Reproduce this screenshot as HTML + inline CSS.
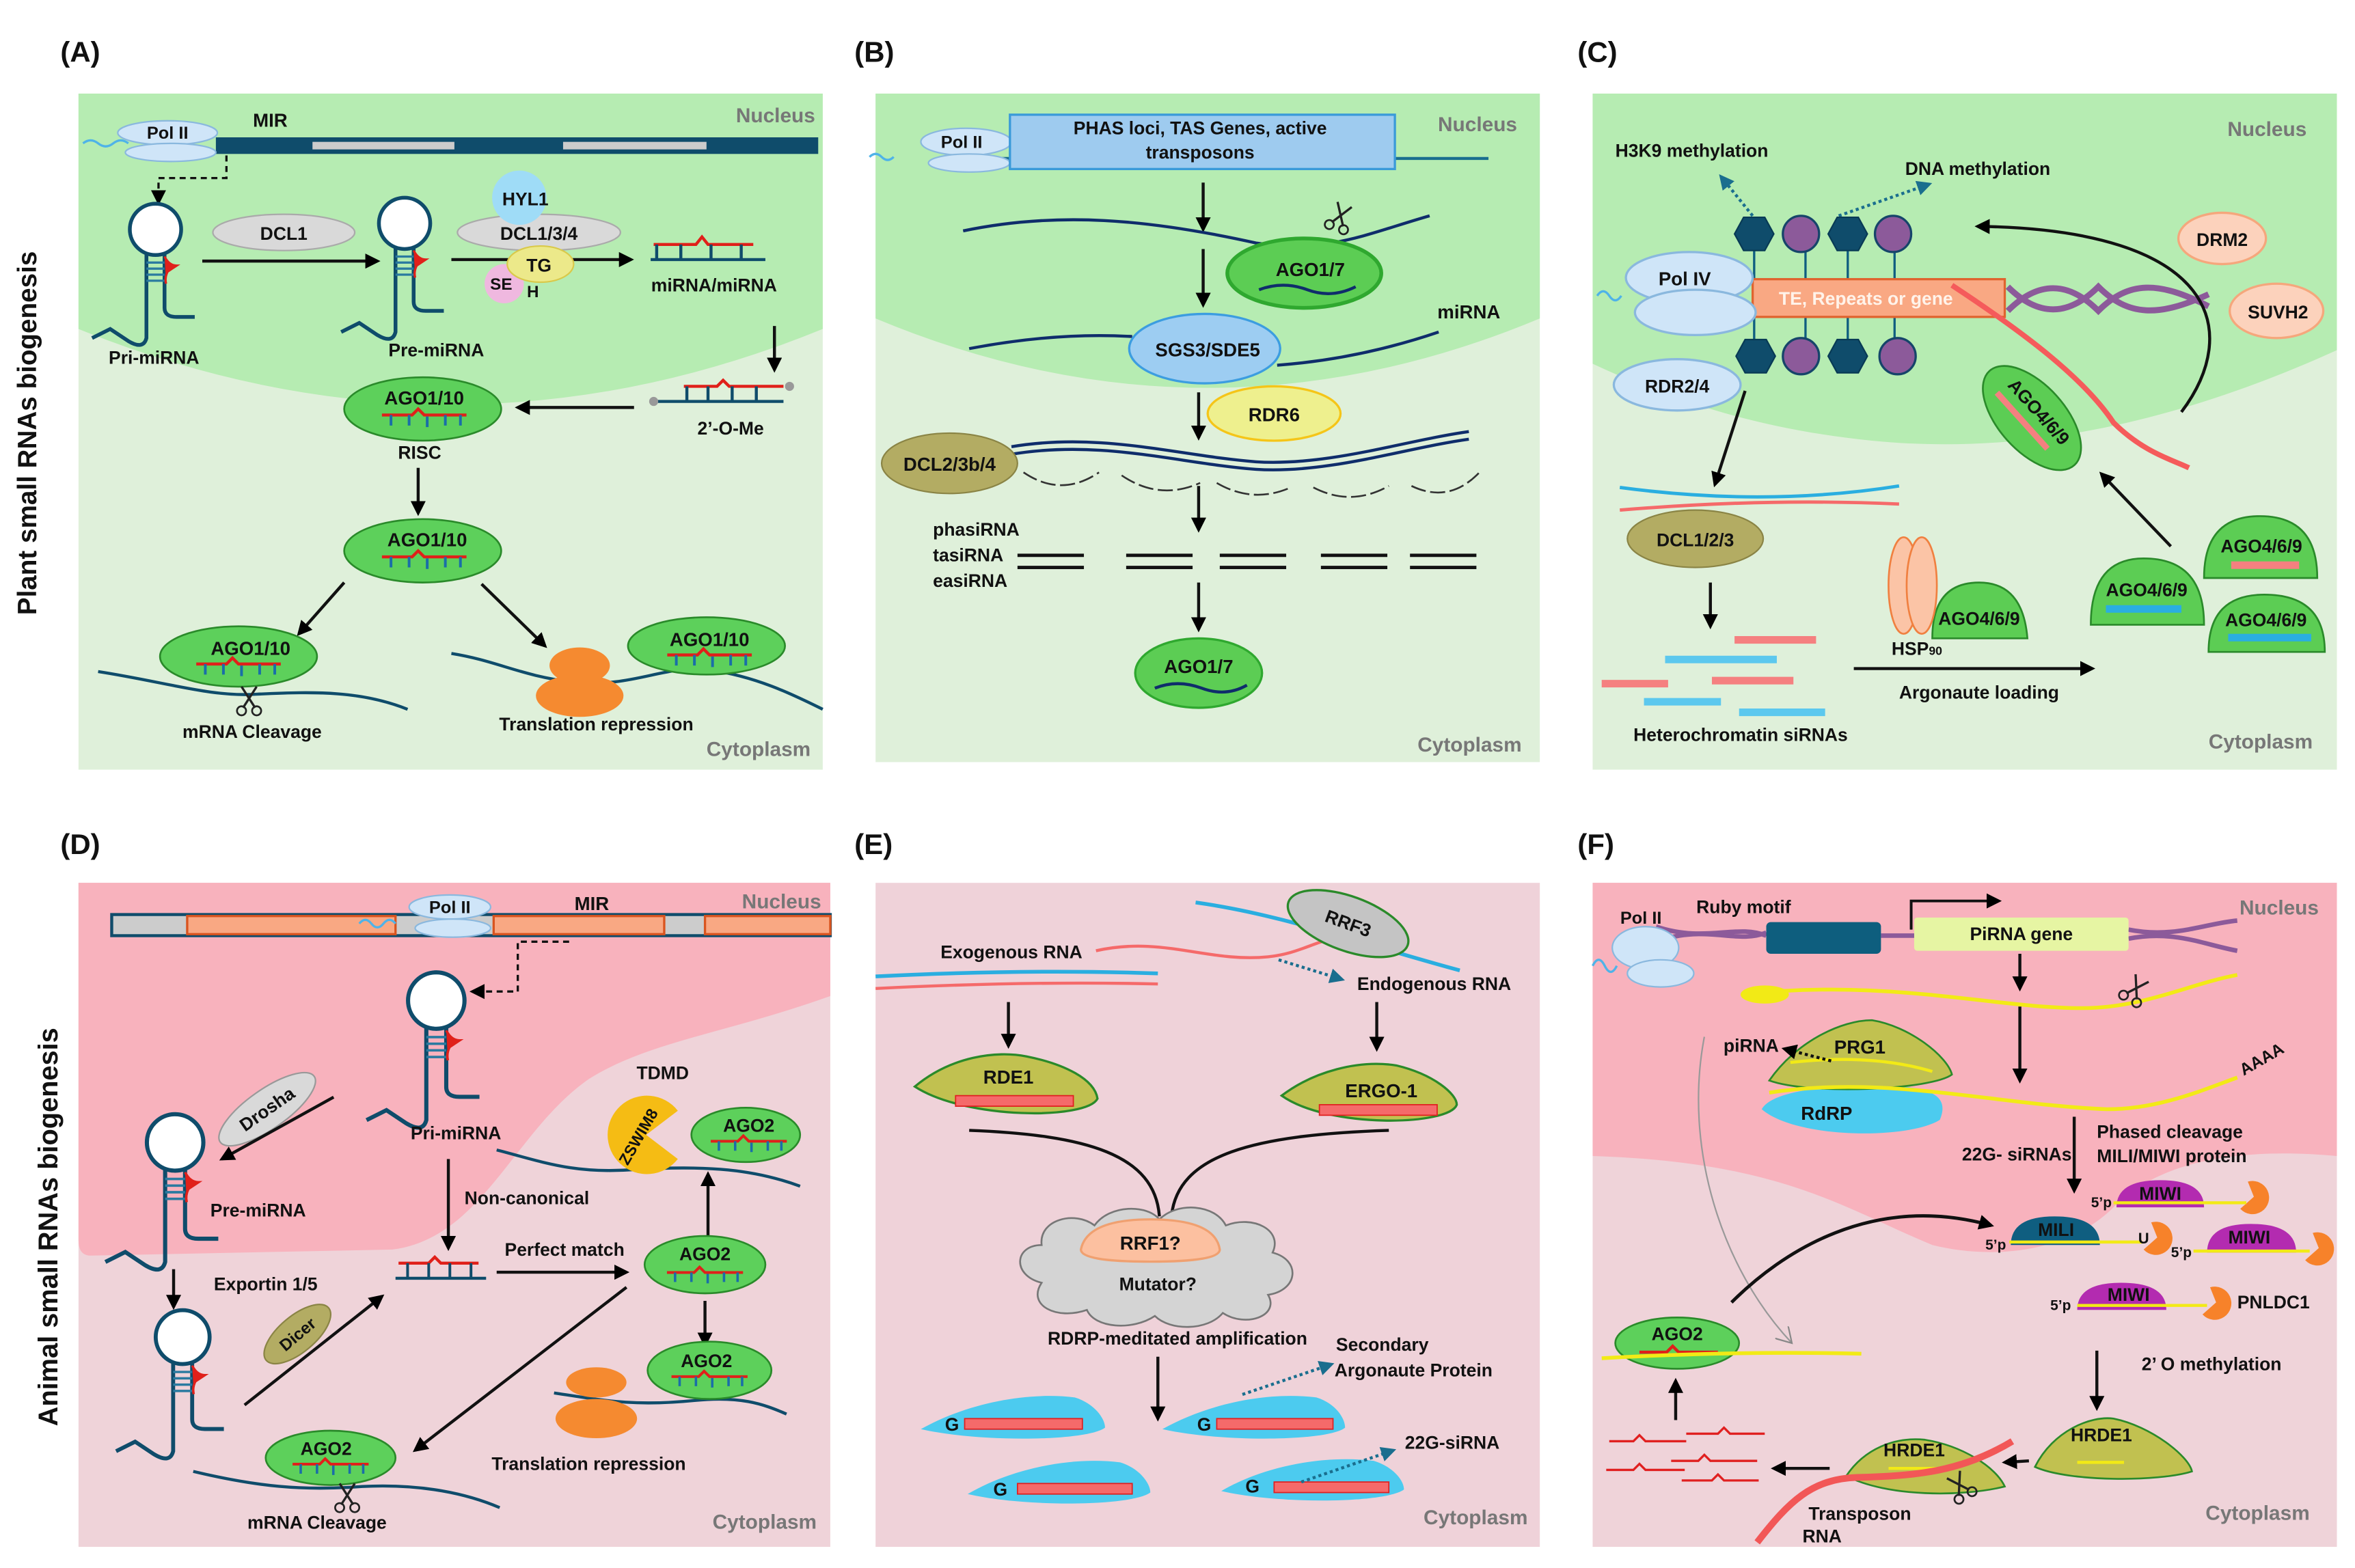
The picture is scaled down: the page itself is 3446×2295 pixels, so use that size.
<!DOCTYPE html>
<html><head><meta charset="utf-8"><style>
html,body{margin:0;padding:0;background:#fff;}
svg{display:block;}
text{font-family:"Liberation Sans",sans-serif;font-weight:bold;fill:#111;}
</style></head><body>
<svg width="3446" height="2295" viewBox="0 0 1560 1039" preserveAspectRatio="none" xmlns="http://www.w3.org/2000/svg">
<defs>
<marker id="ar" markerWidth="10" markerHeight="10" refX="8" refY="5" orient="auto" markerUnits="userSpaceOnUse"><path d="M0,0 L10,5 L0,10 Z" fill="#000"/></marker>
<marker id="ab" markerWidth="10" markerHeight="10" refX="8" refY="5" orient="auto" markerUnits="userSpaceOnUse"><path d="M0,0 L10,5 L0,10 Z" fill="#1a6e8e"/></marker>
<marker id="ag" markerWidth="12" markerHeight="12" refX="10" refY="6" orient="auto" markerUnits="userSpaceOnUse"><path d="M0,0 L10,6 L0,12" fill="none" stroke="#888" stroke-width="1"/></marker>
<g id="dup"><path d="M-28,-2 H-8 L-4,-6 L0,-2 H28" stroke="#e0201a" stroke-width="2" fill="none"/><path d="M-22,-2v7M-10,-2v7M2,-1v7M14,-2v7M24,-2v7" stroke="#1a6ea8" stroke-width="1.8"/></g>
<g id="hp"><circle cx="0" cy="0" r="17" fill="#fff" stroke="#0f4c6b" stroke-width="2.5"/><path d="M-6,16 V72 Q-8,80 -18,74 L-30,66 L-42,72" fill="none" stroke="#0f4c6b" stroke-width="2.5"/><path d="M6,16 V52 Q6,58 14,58 H26" fill="none" stroke="#0f4c6b" stroke-width="2.5"/><path d="M-6,22H6M-6,26H6M-6,30H6M-6,34H6" stroke="#2a7aa0" stroke-width="1.5"/><path d="M6,18 Q9,24 14,24 L8,28 Q6,32 7,36" fill="#e0201a" stroke="#e0201a" stroke-width="1.5"/></g>
<g id="scis"><path d="M-5,-8 L4,6 M5,-8 L-4,6" stroke="#222" stroke-width="1.5"/><circle cx="-5" cy="8" r="3" fill="none" stroke="#222" stroke-width="1.2"/><circle cx="5" cy="8" r="3" fill="none" stroke="#222" stroke-width="1.2"/></g>
</defs>
<rect width="1560" height="1039" fill="#fff"/>

<!-- Side labels -->
<text transform="translate(24,287) rotate(-90)" font-size="17.5" text-anchor="middle">Plant small RNAs biogenesis</text>
<text transform="translate(38,813) rotate(-90)" font-size="18" text-anchor="middle">Animal small RNAs biogenesis</text>

<text x="40" y="41" font-size="19">(A)</text>
<text x="566" y="41" font-size="19">(B)</text>
<text x="1045" y="41" font-size="19">(C)</text>
<text x="40" y="566" font-size="19">(D)</text>
<text x="566" y="566" font-size="19">(E)</text>
<text x="1045" y="566" font-size="19">(F)</text>

<!-- ================= PANEL A ================= -->
<rect x="52" y="62" width="493" height="448" fill="#dff0da"/>
<path d="M52,62 H545 V218 Q300,318 52,218 Z" fill="#b6ecb2"/>
<text x="540" y="81" font-size="13.5" fill="#777" text-anchor="end" style="fill:#777">Nucleus</text>
<text x="537" y="501" font-size="13.5" text-anchor="end" style="fill:#777">Cytoplasm</text>
<rect x="143" y="91" width="399" height="11" fill="#0f4c6b"/>
<rect x="207" y="94" width="94" height="5" fill="#ccc"/>
<rect x="373" y="94" width="95" height="5" fill="#ccc"/>
<path d="M55,95 q5,-4 10,0 t10,0 t10,0" stroke="#4fb3e8" stroke-width="1.5" fill="none"/>
<ellipse cx="111" cy="88" rx="33" ry="8" fill="#cfe5f8" stroke="#8ab8de"/>
<ellipse cx="113" cy="101" rx="30" ry="6" fill="#cfe5f8" stroke="#8ab8de"/>
<text x="111" y="92" font-size="11.5" text-anchor="middle">Pol II</text>
<text x="179" y="84" font-size="12.5" text-anchor="middle">MIR</text>
<path d="M150,103 V118 H105 V134" stroke="#111" stroke-width="1.5" stroke-dasharray="4,3" fill="none" marker-end="url(#ar)"/>
<use href="#hp" x="103" y="152"/>
<text x="102" y="241" font-size="12" text-anchor="middle">Pri-miRNA</text>
<ellipse cx="188" cy="154" rx="47" ry="12" fill="#d9d9d9" stroke="#aaa"/>
<text x="188" y="159" font-size="12" text-anchor="middle">DCL1</text>
<line x1="134" y1="173" x2="250" y2="173" stroke="#111" stroke-width="2" marker-end="url(#ar)"/>
<use href="#hp" x="268" y="148"/>
<text x="289" y="236" font-size="12" text-anchor="middle">Pre-miRNA</text>
<line x1="299" y1="172" x2="418" y2="172" stroke="#111" stroke-width="2" marker-end="url(#ar)"/>
<ellipse cx="357" cy="154" rx="54" ry="12" fill="#d9d9d9" stroke="#aaa"/>
<circle cx="344" cy="131" r="18" fill="#9fdcf7"/>
<text x="348" y="136" font-size="12" text-anchor="middle">HYL1</text>
<text x="357" y="159" font-size="12" text-anchor="middle">DCL1/3/4</text>
<circle cx="334" cy="188" r="13" fill="#efb8df"/>
<ellipse cx="358" cy="175" rx="22" ry="12" fill="#ece98a" stroke="#d9c94a"/>
<text x="357" y="180" font-size="12" text-anchor="middle">TG</text>
<text x="332" y="192" font-size="11" text-anchor="middle">SE</text>
<text x="353" y="197" font-size="11" text-anchor="middle">H</text>
<g transform="translate(469,172)"><path d="M-38,0 H38" stroke="#0f4c6b" stroke-width="2"/><path d="M-36,-10 H-8 L-4,-15 L0,-10 H30" stroke="#e0201a" stroke-width="2" fill="none"/><path d="M-34,-10V0M-18,-10V0M2,-10V0M22,-10V0" stroke="#0f4c6b" stroke-width="2"/></g>
<text x="473" y="193" font-size="12" text-anchor="middle">miRNA/miRNA</text>
<line x1="513" y1="216" x2="513" y2="245" stroke="#111" stroke-width="2" marker-end="url(#ar)"/>
<g transform="translate(479,266)"><path d="M-44,0 H40" stroke="#0f4c6b" stroke-width="2"/><path d="M-26,-10 H-4 L0,-14 L4,-10 H40" stroke="#e0201a" stroke-width="2" fill="none"/><path d="M-24,-10V0M-10,-10V0M6,-10V0M22,-10V0" stroke="#0f4c6b" stroke-width="2"/><circle cx="-46" cy="0" r="3" fill="#999"/><circle cx="44" cy="-10" r="3" fill="#999"/></g>
<text x="484" y="288" font-size="12" text-anchor="middle">2’-O-Me</text>
<line x1="420" y1="270" x2="343" y2="270" stroke="#111" stroke-width="2" marker-end="url(#ar)"/>
<ellipse cx="280" cy="271" rx="52" ry="21" fill="#5dd05b" stroke="#2a8a2a" stroke-width="1.2"/>
<text x="281" y="268" font-size="12.5" text-anchor="middle">AGO1/10</text>
<use href="#dup" x="281" y="277"/>
<text x="278" y="304" font-size="12" text-anchor="middle">RISC</text>
<line x1="277" y1="310" x2="277" y2="340" stroke="#111" stroke-width="2" marker-end="url(#ar)"/>
<ellipse cx="280" cy="365" rx="52" ry="21" fill="#5dd05b" stroke="#2a8a2a" stroke-width="1.2"/>
<text x="283" y="362" font-size="12.5" text-anchor="middle">AGO1/10</text>
<use href="#dup" x="281" y="371"/>
<line x1="228" y1="386" x2="198" y2="420" stroke="#111" stroke-width="2" marker-end="url(#ar)"/>
<line x1="319" y1="387" x2="361" y2="428" stroke="#111" stroke-width="2" marker-end="url(#ar)"/>
<path d="M65,445 C110,452 140,462 170,460 C210,458 240,458 270,470" stroke="#0f4c6b" stroke-width="2" fill="none"/>
<ellipse cx="158" cy="435" rx="52" ry="20" fill="#5dd05b" stroke="#2a8a2a" stroke-width="1.2"/>
<text x="166" y="434" font-size="12.5" text-anchor="middle">AGO1/10</text>
<use href="#dup" x="158" y="442"/>
<use href="#scis" x="165" y="463"/>
<text x="167" y="489" font-size="12" text-anchor="middle">mRNA Cleavage</text>
<path d="M299,433 C330,438 345,448 380,452 C420,456 440,440 470,444 C500,448 525,460 545,470" stroke="#0f4c6b" stroke-width="2" fill="none"/>
<ellipse cx="468" cy="428" rx="52" ry="19" fill="#5dd05b" stroke="#2a8a2a" stroke-width="1.2"/>
<text x="470" y="428" font-size="12.5" text-anchor="middle">AGO1/10</text>
<use href="#dup" x="470" y="436"/>
<ellipse cx="384" cy="441" rx="20" ry="12" fill="#f58a30"/>
<ellipse cx="384" cy="461" rx="29" ry="14" fill="#f58a30"/>
<text x="395" y="484" font-size="12" text-anchor="middle">Translation repression</text>

<!-- ================= PANEL B ================= -->
<rect x="580" y="62" width="440" height="443" fill="#dff0da"/>
<path d="M580,62 H1020 V211 Q800,303 580,211 Z" fill="#b6ecb2"/>
<text x="1005" y="87" font-size="13.5" text-anchor="end" style="fill:#777">Nucleus</text>
<text x="1008" y="498" font-size="13.5" text-anchor="end" style="fill:#777">Cytoplasm</text>
<line x1="640" y1="105" x2="669" y2="105" stroke="#1a6e8e" stroke-width="2"/>
<line x1="924" y1="105" x2="986" y2="105" stroke="#1a6e8e" stroke-width="2"/>
<path d="M576,104 q4,-4 8,0 t8,0" stroke="#4fb3e8" stroke-width="1.5" fill="none"/>
<ellipse cx="640" cy="94" rx="30" ry="9" fill="#cfe5f8" stroke="#8ab8de"/>
<ellipse cx="642" cy="108" rx="27" ry="6" fill="#cfe5f8" stroke="#8ab8de"/>
<text x="637" y="98" font-size="11.5" text-anchor="middle">Pol II</text>
<rect x="669" y="76" width="255" height="36" fill="#9ecbef" stroke="#3a9ad9" stroke-width="1.5"/>
<text x="795" y="89" font-size="12" text-anchor="middle">PHAS loci, TAS Genes, active</text>
<text x="795" y="105" font-size="12" text-anchor="middle">transposons</text>
<line x1="797" y1="121" x2="797" y2="152" stroke="#111" stroke-width="2" marker-end="url(#ar)"/>
<path d="M638,153 C700,140 760,145 832,161 C880,168 905,155 947,143" stroke="#0f2d6b" stroke-width="2" fill="none"/>
<use href="#scis" transform="translate(888,143) rotate(20)"/>
<ellipse cx="864" cy="181" rx="51" ry="23" fill="#5ccd54" stroke="#2fa82f" stroke-width="2.5"/>
<text x="868" y="183" font-size="12.5" text-anchor="middle">AGO1/7</text>
<path d="M834,192 Q850,186 866,192 T898,190" stroke="#0f2d6b" stroke-width="2" fill="none"/>
<line x1="797" y1="165" x2="797" y2="202" stroke="#111" stroke-width="2" marker-end="url(#ar)"/>
<path d="M642,231 Q700,220 750,223" stroke="#0f2d6b" stroke-width="2" fill="none"/>
<path d="M846,242 Q900,238 953,220" stroke="#0f2d6b" stroke-width="2" fill="none"/>
<ellipse cx="798" cy="231" rx="50" ry="23" fill="#9dcdf2" stroke="#3c9de0" stroke-width="1.5"/>
<text x="800" y="236" font-size="12.5" text-anchor="middle">SGS3/SDE5</text>
<text x="973" y="211" font-size="12.5" text-anchor="middle">miRNA</text>
<line x1="794" y1="260" x2="794" y2="290" stroke="#111" stroke-width="2" marker-end="url(#ar)"/>
<ellipse cx="844" cy="274" rx="44" ry="18" fill="#eef08e" stroke="#f5c518" stroke-width="1.5"/>
<text x="844" y="279" font-size="12.5" text-anchor="middle">RDR6</text>
<path d="M670,296 C730,286 780,302 832,306 C880,309 930,292 973,286" stroke="#0f2d6b" stroke-width="2" fill="none"/>
<path d="M670,301 C730,291 780,307 832,311 C880,314 930,297 973,291" stroke="#0f2d6b" stroke-width="2" fill="none"/>
<g stroke="#333" stroke-width="1.2" fill="none" stroke-dasharray="10,3">
<path d="M678,313 Q703,330 728,313"/><path d="M743,315 Q768,332 795,320"/><path d="M806,320 Q830,334 855,323"/><path d="M870,323 Q895,336 920,322"/><path d="M935,322 Q960,334 980,313"/></g>
<ellipse cx="629" cy="307" rx="45" ry="20" fill="#b3ac63" stroke="#8a8445"/>
<text x="629" y="312" font-size="12.5" text-anchor="middle">DCL2/3b/4</text>
<line x1="794" y1="322" x2="794" y2="351" stroke="#111" stroke-width="2" marker-end="url(#ar)"/>
<text x="618" y="355" font-size="12">phasiRNA</text>
<text x="618" y="372" font-size="12">tasiRNA</text>
<text x="618" y="389" font-size="12">easiRNA</text>
<g stroke="#111" stroke-width="2.2"><path d="M674,368H718M674,376H718M746,368H790M746,376H790M808,368H852M808,376H852M875,368H919M875,376H919M934,368H978M934,376H978"/></g>
<line x1="794" y1="386" x2="794" y2="417" stroke="#111" stroke-width="2" marker-end="url(#ar)"/>
<ellipse cx="794" cy="446" rx="42" ry="23" fill="#5ccd54" stroke="#2fa82f" stroke-width="1.5"/>
<text x="794" y="446" font-size="12.5" text-anchor="middle">AGO1/7</text>
<path d="M765,456 Q780,450 796,456 T826,454" stroke="#0f2d6b" stroke-width="2" fill="none"/>

<!-- ================= PANEL C ================= -->
<rect x="1055" y="62" width="493" height="448" fill="#dff0da"/>
<path d="M1055,62 H1548 V232 C1420,290 1320,300 1240,292 C1160,284 1100,262 1055,241 Z" fill="#b6ecb2"/>
<text x="1528" y="90" font-size="13.5" text-anchor="end" style="fill:#777">Nucleus</text>
<text x="1532" y="496" font-size="13.5" text-anchor="end" style="fill:#777">Cytoplasm</text>
<text x="1070" y="104" font-size="12">H3K9 methylation</text>
<text x="1262" y="116" font-size="12">DNA methylation</text>
<line x1="1161" y1="143" x2="1140" y2="117" stroke="#1a6e8e" stroke-width="2" stroke-dasharray="2,2" marker-end="url(#ab)"/>
<line x1="1218" y1="143" x2="1278" y2="122" stroke="#1a6e8e" stroke-width="2" stroke-dasharray="2,2" marker-end="url(#ab)"/>
<g stroke="#0f5e80" stroke-width="1.5"><path d="M1162,155V236M1196,155V236M1224,155V236M1255,155V236"/></g>
<g fill="#0f4c6b" stroke="#083a55"><polygon points="1149,155 1155,144 1169,144 1175,155 1169,166 1155,166"/><polygon points="1211,155 1217,144 1231,144 1237,155 1231,166 1217,166"/><polygon points="1150,236 1156,225 1170,225 1176,236 1170,247 1156,247"/><polygon points="1211,236 1217,225 1231,225 1237,236 1231,247 1217,247"/></g>
<g fill="#8c5a9a" stroke="#16456a" stroke-width="1.5"><circle cx="1193" cy="155" r="12"/><circle cx="1254" cy="155" r="12"/><circle cx="1193" cy="236" r="12"/><circle cx="1257" cy="236" r="12"/></g>
<rect x="1161" y="185" width="167" height="25" fill="#f9a883" stroke="#e0642f" stroke-width="1.5"/>
<text x="1236" y="202" font-size="12" text-anchor="middle" style="fill:#fff3ea">TE, Repeats or gene</text>
<path d="M1330,190 C1350,210 1370,210 1390,190 C1410,210 1430,210 1463,195" stroke="#8c5a9a" stroke-width="4" fill="none"/>
<path d="M1330,206 C1350,186 1370,186 1390,206 C1410,186 1430,186 1463,203" stroke="#8c5a9a" stroke-width="4" fill="none"/>
<path d="M1058,196 q4,-6 8,0 t8,0" stroke="#4fb3e8" stroke-width="1.5" fill="none"/>
<ellipse cx="1119" cy="184" rx="42" ry="17" fill="#cfe5f8" stroke="#8ab8de" stroke-width="1.5"/>
<ellipse cx="1123" cy="207" rx="40" ry="15" fill="#cfe5f8" stroke="#8ab8de" stroke-width="1.5"/>
<text x="1116" y="189" font-size="12.5" text-anchor="middle">Pol IV</text>
<path d="M1293,189 C1340,220 1380,250 1400,280 C1420,300 1440,305 1450,310" stroke="#f55b5b" stroke-width="3.5" fill="none"/>
<ellipse cx="1472" cy="158" rx="29" ry="17" fill="#fcd2bc" stroke="#f5a77c" stroke-width="1.5"/>
<text x="1472" y="163" font-size="12" text-anchor="middle">DRM2</text>
<ellipse cx="1508" cy="206" rx="31" ry="18" fill="#fcd2bc" stroke="#f5a77c" stroke-width="1.5"/>
<text x="1509" y="211" font-size="12" text-anchor="middle">SUVH2</text>
<path d="M1445,273 C1485,220 1470,152 1310,150" stroke="#111" stroke-width="2" fill="none" marker-end="url(#ar)"/>
<ellipse cx="1111" cy="255" rx="42" ry="17" fill="#cfe5f8" stroke="#8ab8de" stroke-width="1.5"/>
<text x="1111" y="260" font-size="12" text-anchor="middle">RDR2/4</text>
<g transform="translate(1346,277) rotate(48)"><ellipse cx="0" cy="0" rx="42" ry="22" fill="#5ccd54" stroke="#2a8a2a" stroke-width="1.2"/><rect x="-28" y="4" width="50" height="4" fill="#f58080"/><text x="0" y="-2" font-size="12" text-anchor="middle">AGO4/6/9</text></g>
<line x1="1156" y1="259" x2="1136" y2="321" stroke="#111" stroke-width="2" marker-end="url(#ar)"/>
<path d="M1073,323 Q1170,336 1258,322" stroke="#2aaee0" stroke-width="2.2" fill="none"/>
<path d="M1073,338 Q1170,330 1258,334" stroke="#f56a6a" stroke-width="2.2" fill="none"/>
<ellipse cx="1123" cy="357" rx="45" ry="19" fill="#b3ac63" stroke="#8a8445"/>
<text x="1123" y="362" font-size="12" text-anchor="middle">DCL1/2/3</text>
<line x1="1133" y1="386" x2="1133" y2="415" stroke="#111" stroke-width="2" marker-end="url(#ar)"/>
<g stroke-width="5"><path d="M1149,424H1203M1061,453H1105M1134,451H1188" stroke="#f58080"/><path d="M1103,437H1177M1089,465H1140M1152,472H1209" stroke="#5cc8ee"/></g>
<text x="1153" y="491" font-size="12" text-anchor="middle">Heterochromatin siRNAs</text>
<path d="M1280,423 Q1280,386 1311,386 Q1340,386 1343,423 Z" fill="#5ccd54" stroke="#2a8a2a" stroke-width="1.2"/>
<ellipse cx="1261" cy="388" rx="10" ry="32" fill="#fbc4a6" stroke="#f08040" stroke-width="1.2"/>
<ellipse cx="1273" cy="388" rx="10" ry="32" fill="#fbc4a6" stroke="#f08040" stroke-width="1.2"/>
<text x="1311" y="414" font-size="12" text-anchor="middle">AGO4/6/9</text>
<text x="1253" y="434" font-size="12">HSP<tspan font-size="8">90</tspan></text>
<line x1="1228" y1="443" x2="1386" y2="443" stroke="#111" stroke-width="2" marker-end="url(#ar)"/>
<text x="1311" y="463" font-size="12" text-anchor="middle">Argonaute loading</text>
<line x1="1438" y1="362" x2="1392" y2="314" stroke="#111" stroke-width="2" marker-end="url(#ar)"/>
<path d="M1385,414 Q1385,370 1420,370 Q1460,370 1460,414 Z" fill="#5ccd54" stroke="#2a8a2a" stroke-width="1.2"/>
<text x="1422" y="395" font-size="12" text-anchor="middle">AGO4/6/9</text><rect x="1395" y="401" width="50" height="5" fill="#2aaee0"/>
<path d="M1460,383 Q1460,342 1497,342 Q1535,342 1535,383 Z" fill="#5ccd54" stroke="#2a8a2a" stroke-width="1.2"/>
<text x="1498" y="366" font-size="12" text-anchor="middle">AGO4/6/9</text><rect x="1478" y="372" width="45" height="5" fill="#f58080"/>
<path d="M1463,432 Q1463,394 1500,394 Q1540,394 1540,432 Z" fill="#5ccd54" stroke="#2a8a2a" stroke-width="1.2"/>
<text x="1501" y="415" font-size="12" text-anchor="middle">AGO4/6/9</text><rect x="1476" y="420" width="55" height="5" fill="#2aaee0"/>

<!-- ================= PANEL D ================= -->
<rect x="52" y="585" width="498" height="440" fill="#efd3d9"/>
<path d="M52,585 H550 V660 C480,685 430,690 390,715 C340,750 320,820 260,828 L60,832 Q52,832 52,822 Z" fill="#f8b2bd"/>
<text x="544" y="602" font-size="13.5" text-anchor="end" style="fill:#777">Nucleus</text>
<text x="541" y="1013" font-size="13.5" text-anchor="end" style="fill:#777">Cytoplasm</text>
<rect x="74" y="606" width="476" height="14" fill="#ccc" stroke="#0f4c6b" stroke-width="2"/>
<rect x="124" y="607" width="138" height="12" fill="#f9a883" stroke="#d9541f" stroke-width="1.5"/>
<rect x="327" y="607" width="113" height="12" fill="#f9a883" stroke="#d9541f" stroke-width="1.5"/>
<rect x="467" y="607" width="83" height="12" fill="#f9a883" stroke="#d9541f" stroke-width="1.5"/>
<path d="M238,612 q4,-5 8,0 t8,0 t8,0" stroke="#4fb3e8" stroke-width="1.5" fill="none"/>
<ellipse cx="298" cy="601" rx="27" ry="8" fill="#cfe5f8" stroke="#8ab8de"/>
<ellipse cx="300" cy="615" rx="25" ry="6" fill="#cfe5f8" stroke="#8ab8de"/>
<text x="298" y="605" font-size="11.5" text-anchor="middle">Pol II</text>
<text x="392" y="603" font-size="12.5" text-anchor="middle">MIR</text>
<path d="M377,624 H343 V657 H313" stroke="#111" stroke-width="1.5" stroke-dasharray="4,3" fill="none" marker-end="url(#ar)"/>
<use href="#hp" transform="translate(289,663) scale(1.1)"/>
<text x="302" y="755" font-size="12" text-anchor="middle">Pri-miRNA</text>
<g transform="translate(177,735) rotate(-35)"><ellipse cx="0" cy="0" rx="38" ry="13" fill="#d9d9d9" stroke="#999"/><text x="0" y="4" font-size="12" text-anchor="middle">Drosha</text></g>
<line x1="221" y1="727" x2="147" y2="768" stroke="#111" stroke-width="2" marker-end="url(#ar)"/>
<use href="#hp" transform="translate(116,757) scale(1.1)"/>
<text x="171" y="806" font-size="12" text-anchor="middle">Pre-miRNA</text>
<line x1="115" y1="841" x2="115" y2="866" stroke="#111" stroke-width="2" marker-end="url(#ar)"/>
<text x="176" y="855" font-size="12" text-anchor="middle">Exportin 1/5</text>
<use href="#hp" transform="translate(121,886) scale(1.05)"/>
<g transform="translate(197,884) rotate(-40)"><ellipse cx="0" cy="0" rx="27" ry="12" fill="#b3ac63" stroke="#8a8445"/><text x="0" y="4" font-size="11" text-anchor="middle">Dicer</text></g>
<line x1="162" y1="931" x2="253" y2="859" stroke="#111" stroke-width="2" marker-end="url(#ar)"/>
<g transform="translate(292,847)"><path d="M-30,0 H30" stroke="#0f4c6b" stroke-width="2"/><path d="M-28,-10 H-8 L-4,-14 L0,-10 H25" stroke="#e0201a" stroke-width="2" fill="none"/><path d="M-22,-10V0M-8,-10V0M6,-10V0M20,-10V0" stroke="#0f4c6b" stroke-width="1.8"/></g>
<line x1="297" y1="768" x2="297" y2="827" stroke="#111" stroke-width="2" marker-end="url(#ar)"/>
<text x="349" y="798" font-size="12" text-anchor="middle">Non-canonical</text>
<text x="374" y="832" font-size="12" text-anchor="middle">Perfect match</text>
<line x1="329" y1="843" x2="415" y2="843" stroke="#111" stroke-width="2" marker-end="url(#ar)"/>
<text x="439" y="715" font-size="12" text-anchor="middle">TDMD</text>
<path d="M329,762 C360,770 380,778 420,775 C470,772 500,775 530,786" stroke="#0f4c6b" stroke-width="2" fill="none"/>
<path d="M428,752 L449,736 A26,26 0 1 0 449,768 Z" fill="#f5bc14"/>
<text transform="translate(426,755) rotate(-60)" font-size="10.5" text-anchor="middle">ZSWIM8</text>
<ellipse cx="494" cy="752" rx="36" ry="18" fill="#5dd05b" stroke="#2a8a2a" stroke-width="1.2"/>
<text x="496" y="750" font-size="12" text-anchor="middle">AGO2</text>
<use href="#dup" transform="translate(496,758) scale(0.9)"/>
<line x1="469" y1="821" x2="469" y2="778" stroke="#111" stroke-width="2" marker-end="url(#ar)"/>
<ellipse cx="467" cy="838" rx="40" ry="19" fill="#5dd05b" stroke="#2a8a2a" stroke-width="1.2"/>
<text x="467" y="835" font-size="12" text-anchor="middle">AGO2</text>
<use href="#dup" transform="translate(467,845) scale(0.9)"/>
<line x1="467" y1="862" x2="467" y2="891" stroke="#111" stroke-width="2" marker-end="url(#ar)"/>
<path d="M367,923 C400,928 420,932 460,928 C490,925 505,930 521,937" stroke="#0f4c6b" stroke-width="2" fill="none"/>
<ellipse cx="470" cy="908" rx="41" ry="19" fill="#5dd05b" stroke="#2a8a2a" stroke-width="1.2"/>
<text x="468" y="906" font-size="12" text-anchor="middle">AGO2</text>
<use href="#dup" transform="translate(470,914) scale(0.9)"/>
<ellipse cx="395" cy="916" rx="20" ry="10" fill="#f58a30"/>
<ellipse cx="395" cy="940" rx="27" ry="13" fill="#f58a30"/>
<text x="390" y="974" font-size="12" text-anchor="middle">Translation repression</text>
<line x1="415" y1="853" x2="275" y2="961" stroke="#111" stroke-width="2" marker-end="url(#ar)"/>
<path d="M128,975 C170,985 200,988 240,985 C280,983 310,990 331,999" stroke="#0f4c6b" stroke-width="2" fill="none"/>
<ellipse cx="219" cy="966" rx="43" ry="18" fill="#5dd05b" stroke="#2a8a2a" stroke-width="1.2"/>
<text x="216" y="964" font-size="12" text-anchor="middle">AGO2</text>
<use href="#dup" transform="translate(219,972) scale(0.9)"/>
<use href="#scis" x="230" y="991"/>
<text x="210" y="1013" font-size="12" text-anchor="middle">mRNA Cleavage</text>

<!-- ================= PANEL E ================= -->
<rect x="580" y="585" width="440" height="440" fill="#efd2d9"/>
<text x="1012" y="1010" font-size="13.5" text-anchor="end" style="fill:#777">Cytoplasm</text>
<path d="M726,630 C770,620 800,638 840,634 C860,632 870,624 890,620" stroke="#f56a6a" stroke-width="2" fill="none"/>
<path d="M792,598 C850,606 900,625 967,643" stroke="#2aaee0" stroke-width="2.5" fill="none"/>
<g transform="translate(893,612) rotate(20)"><ellipse cx="0" cy="0" rx="42" ry="18" fill="#c4c4c4" stroke="#2a8a2a" stroke-width="1.5"/><text x="0" y="4" font-size="12" text-anchor="middle">RRF3</text></g>
<text x="670" y="635" font-size="12" text-anchor="middle">Exogenous RNA</text>
<path d="M580,647 Q680,642 767,645" stroke="#2aaee0" stroke-width="2.5" fill="none"/>
<path d="M580,655 Q680,650 767,652" stroke="#f56a6a" stroke-width="2" fill="none"/>
<line x1="847" y1="636" x2="889" y2="649" stroke="#1a6e8e" stroke-width="2" stroke-dasharray="2,2" marker-end="url(#ab)"/>
<text x="950" y="656" font-size="12" text-anchor="middle">Endogenous RNA</text>
<line x1="668" y1="664" x2="668" y2="693" stroke="#111" stroke-width="2" marker-end="url(#ar)"/>
<line x1="912" y1="664" x2="912" y2="695" stroke="#111" stroke-width="2" marker-end="url(#ar)"/>
<path d="M606,720 C630,700 660,696 680,700 C705,705 725,715 727,728 C720,742 640,742 606,720 Z" fill="#c1c150" stroke="#2a8a2a" stroke-width="1.5"/>
<text x="668" y="718" font-size="12.5" text-anchor="middle">RDE1</text>
<rect x="633" y="726" width="78" height="7" fill="#f56a6a" stroke="#e02020" stroke-width="0.8"/>
<path d="M849,726 C870,710 900,702 925,706 C950,712 965,725 965,732 C960,746 880,748 849,726 Z" fill="#c1c150" stroke="#2a8a2a" stroke-width="1.5"/>
<text x="915" y="727" font-size="12.5" text-anchor="middle">ERGO-1</text>
<rect x="874" y="732" width="78" height="7" fill="#f56a6a" stroke="#e02020" stroke-width="0.8"/>
<path d="M642,749 C720,752 765,765 768,806" stroke="#111" stroke-width="2" fill="none"/>
<path d="M920,749 C830,752 780,765 776,806" stroke="#111" stroke-width="2" fill="none"/>
<path d="M690,850 C670,845 672,825 690,825 C688,808 712,802 725,812 C735,798 760,798 768,808 C780,796 805,798 812,812 C830,805 850,815 843,830 C862,835 860,855 840,858 C848,872 825,880 810,870 C800,882 775,882 765,872 C750,882 725,880 720,868 C700,875 680,865 690,850 Z" fill="#d4d4d4" stroke="#777" stroke-width="1.2"/>
<path d="M716,828 Q720,808 762,808 Q805,808 808,828 Q808,836 762,836 Q716,836 716,828 Z" fill="#fcc0a0" stroke="#f0a070" stroke-width="1.5"/>
<text x="762" y="828" font-size="12.5" text-anchor="middle">RRF1?</text>
<text x="767" y="855" font-size="12" text-anchor="middle">Mutator?</text>
<text x="780" y="891" font-size="12" text-anchor="middle">RDRP-meditated amplification</text>
<text x="885" y="895" font-size="12">Secondary</text>
<text x="884" y="912" font-size="12">Argonaute Protein</text>
<line x1="767" y1="899" x2="767" y2="940" stroke="#111" stroke-width="2" marker-end="url(#ar)"/>
<g fill="#4ccbef">
<path d="M610,947 C640,930 680,922 712,926 C725,930 732,940 732,946 C720,955 650,956 610,947 Z"/>
<path d="M770,947 C800,930 840,922 872,926 C885,930 891,940 891,946 C880,955 810,956 770,947 Z"/>
<path d="M641,990 C670,973 710,965 742,969 C755,973 762,983 762,989 C750,998 680,999 641,990 Z"/>
<path d="M809,988 C838,971 878,964 910,968 C923,972 930,981 930,987 C918,996 848,997 809,988 Z"/>
</g>
<g fill="#f56a6a" stroke="#e02020" stroke-width="0.8"><rect x="639" y="940" width="78" height="7"/><rect x="806" y="940" width="77" height="7"/><rect x="674" y="983" width="76" height="7"/><rect x="844" y="982" width="76" height="7"/></g>
<g font-size="12"><text x="626" y="948">G</text><text x="793" y="948">G</text><text x="658" y="991">G</text><text x="825" y="989">G</text></g>
<line x1="823" y1="924" x2="882" y2="904" stroke="#1a6e8e" stroke-width="2" stroke-dasharray="2,2" marker-end="url(#ab)"/>
<line x1="862" y1="982" x2="923" y2="961" stroke="#1a6e8e" stroke-width="2" stroke-dasharray="2,2" marker-end="url(#ab)"/>
<text x="962" y="960" font-size="12" text-anchor="middle">22G-siRNA</text>

<!-- ================= PANEL F ================= -->
<rect x="1055" y="585" width="493" height="440" fill="#efd3d9"/>
<path d="M1055,585 H1548 V766 C1480,760 1430,770 1400,800 C1370,830 1320,835 1280,825 C1220,800 1180,770 1055,766 Z" fill="#f8b2bd"/>
<text x="1536" y="606" font-size="13.5" text-anchor="end" style="fill:#777">Nucleus</text>
<text x="1530" y="1007" font-size="13.5" text-anchor="end" style="fill:#777">Cytoplasm</text>
<path d="M1097,614 C1130,625 1150,612 1170,620 M1097,624 C1130,612 1150,626 1170,618 M1246,620 H1268 M1410,616 C1440,622 1460,612 1482,610 M1410,622 C1440,616 1460,626 1482,630" stroke="#8c5a9a" stroke-width="3" fill="none"/>
<path d="M1055,640 q4,-8 8,0 t8,0" stroke="#4fb3e8" stroke-width="1.5" fill="none"/>
<ellipse cx="1090" cy="628" rx="22" ry="14" fill="#cfe5f8" stroke="#8ab8de"/>
<ellipse cx="1100" cy="645" rx="22" ry="9" fill="#cfe5f8" stroke="#8ab8de"/>
<text x="1087" y="612" font-size="11.5" text-anchor="middle">Pol II</text>
<text x="1155" y="605" font-size="12" text-anchor="middle">Ruby motif</text>
<rect x="1170" y="611" width="76" height="21" rx="3" fill="#0e5e7e"/>
<rect x="1268" y="608" width="142" height="22" rx="2" fill="#e6f5a3"/>
<text x="1339" y="623" font-size="12" text-anchor="middle">PiRNA gene</text>
<path d="M1266,616 V597 H1324" stroke="#111" stroke-width="1.8" fill="none" marker-end="url(#ar)"/>
<line x1="1338" y1="632" x2="1338" y2="655" stroke="#111" stroke-width="2" marker-end="url(#ar)"/>
<path d="M1154,659 C1250,648 1320,668 1379,668 C1420,668 1450,652 1482,646" stroke="#f2ea16" stroke-width="2.5" fill="none"/>
<ellipse cx="1169" cy="659" rx="16" ry="6" fill="#f2ea16"/>
<use href="#scis" transform="translate(1415,655) rotate(30)"/>
<line x1="1338" y1="667" x2="1338" y2="716" stroke="#111" stroke-width="2" marker-end="url(#ar)"/>
<path d="M1129,687 C1115,760 1140,840 1187,890" stroke="#999" stroke-width="1" fill="none" marker-end="url(#ag)"/>
<path d="M1167,735 C1175,720 1230,718 1260,720 C1285,722 1290,730 1285,742 C1265,755 1190,755 1167,735 Z" fill="#4ccbef"/>
<path d="M1172,716 C1190,690 1220,676 1240,676 C1265,680 1290,700 1293,712 C1280,722 1200,726 1172,716 Z" fill="#c1c150" stroke="#2a8a2a" stroke-width="1.2"/>
<text x="1232" y="698" font-size="12.5" text-anchor="middle">PRG1</text>
<text x="1210" y="742" font-size="12.5" text-anchor="middle">RdRP</text>
<path d="M1186,704 Q1240,698 1280,710" stroke="#f2ea16" stroke-width="2" fill="none"/>
<path d="M1172,724 C1250,712 1320,732 1396,735 C1430,735 1460,722 1482,714" stroke="#f2ea16" stroke-width="2.5" fill="none"/>
<text x="1160" y="697" font-size="12" text-anchor="middle">piRNA</text>
<line x1="1213" y1="703" x2="1182" y2="695" stroke="#111" stroke-width="2" stroke-dasharray="2,2" marker-end="url(#ar)"/>
<text transform="translate(1500,705) rotate(-30)" font-size="11" text-anchor="middle">AAAA</text>
<line x1="1374" y1="740" x2="1374" y2="789" stroke="#111" stroke-width="2" marker-end="url(#ar)"/>
<text x="1336" y="769" font-size="12" text-anchor="middle">22G- siRNAs</text>
<text x="1389" y="754" font-size="12">Phased cleavage</text>
<text x="1389" y="770" font-size="12">MILI/MIWI protein</text>
<path d="M1147,863 C1180,830 1240,790 1319,812" stroke="#111" stroke-width="2.2" fill="none" marker-end="url(#ar)"/>
<g fill="#f7822a">
<path d="M1493,793 m-4,-10 a11,11 0 1 1 -5,18 l9,-8 z"/>
<path d="M1429,820 m-4,-10 a11,11 0 1 1 -5,18 l9,-8 z"/>
<path d="M1536,827 m-4,-10 a11,11 0 1 1 -5,18 l9,-8 z"/>
<path d="M1468,863 m-4,-10 a11,11 0 1 1 -5,18 l9,-8 z"/>
</g>
<path d="M1402,800 Q1402,782 1431,782 Q1460,782 1460,800 Z" fill="#b32bb0"/>
<text x="1431" y="795" font-size="12" text-anchor="middle">MIWI</text>
<line x1="1400" y1="797" x2="1488" y2="797" stroke="#f2ea16" stroke-width="2"/>
<text x="1392" y="800" font-size="9.5" text-anchor="middle">5’p</text>
<path d="M1332,825 Q1332,806 1361,806 Q1391,806 1391,825 Z" fill="#0f5e80"/>
<text x="1362" y="819" font-size="12" text-anchor="middle">MILI</text>
<line x1="1331" y1="823" x2="1419" y2="823" stroke="#f2ea16" stroke-width="2"/>
<text x="1322" y="828" font-size="9.5" text-anchor="middle">5’p</text>
<text x="1420" y="824" font-size="10" text-anchor="middle">U</text>
<path d="M1462,830 Q1462,811 1491,811 Q1521,811 1521,830 Z" fill="#b32bb0"/>
<text x="1490" y="824" font-size="12" text-anchor="middle">MIWI</text>
<line x1="1453" y1="829" x2="1530" y2="829" stroke="#f2ea16" stroke-width="2"/>
<text x="1445" y="833" font-size="9.5" text-anchor="middle">5’p</text>
<path d="M1376,868 Q1376,850 1405,850 Q1435,850 1435,868 Z" fill="#b32bb0"/>
<text x="1410" y="862" font-size="12" text-anchor="middle">MIWI</text>
<line x1="1376" y1="865" x2="1462" y2="865" stroke="#f2ea16" stroke-width="2"/>
<text x="1365" y="868" font-size="9.5" text-anchor="middle">5’p</text>
<text x="1482" y="867" font-size="12">PNLDC1</text>
<ellipse cx="1111" cy="890" rx="41" ry="17" fill="#5dd05b" stroke="#2a8a2a" stroke-width="1.2"/>
<text x="1111" y="888" font-size="12" text-anchor="middle">AGO2</text>
<path d="M1086,896 H1104 L1108,892 L1112,896 H1138" stroke="#e0201a" stroke-width="2" fill="none"/>
<path d="M1061,900 Q1150,895 1233,897" stroke="#f2ea16" stroke-width="2.5" fill="none"/>
<line x1="1389" y1="895" x2="1389" y2="933" stroke="#111" stroke-width="2" marker-end="url(#ar)"/>
<text x="1465" y="908" font-size="12" text-anchor="middle">2’ O methylation</text>
<path d="M1348,972 C1360,948 1385,938 1400,940 C1425,945 1450,965 1452,975 C1430,982 1370,982 1348,972 Z" fill="#c1c150" stroke="#2a8a2a" stroke-width="1.2"/>
<text x="1392" y="955" font-size="12" text-anchor="middle">HRDE1</text>
<line x1="1376" y1="969" x2="1407" y2="969" stroke="#f2ea16" stroke-width="2"/>
<line x1="1344" y1="968" x2="1328" y2="969" stroke="#111" stroke-width="2" marker-end="url(#ar)"/>
<path d="M1223,978 C1235,960 1255,952 1275,954 C1300,958 1322,972 1328,985 C1300,992 1250,992 1223,978 Z" fill="#c1c150" stroke="#2a8a2a" stroke-width="1.2"/>
<text x="1268" y="965" font-size="12" text-anchor="middle">HRDE1</text>
<line x1="1251" y1="973" x2="1283" y2="973" stroke="#f2ea16" stroke-width="2"/>
<path d="M1164,1022 C1185,995 1200,980 1230,979 C1270,978 1300,975 1333,955" stroke="#f25757" stroke-width="4.5" fill="none"/>
<use href="#scis" transform="translate(1298,984) rotate(-30)"/>
<text x="1232" y="1007" font-size="12" text-anchor="middle">Transposon</text>
<text x="1207" y="1022" font-size="12" text-anchor="middle">RNA</text>
<line x1="1212" y1="973" x2="1175" y2="973" stroke="#111" stroke-width="2" marker-end="url(#ar)"/>
<g stroke="#e02020" stroke-width="1.5" fill="none">
<path d="M1066,955 H1082 L1086,951 L1090,955 H1117"/>
<path d="M1117,950 H1138 L1142,946 L1146,950 H1169"/>
<path d="M1107,968 H1125 L1129,964 L1133,968 H1164"/>
<path d="M1064,974 H1082 L1086,970 L1090,974 H1116"/>
<path d="M1114,981 H1134 L1138,977 L1142,981 H1165"/>
</g>
<line x1="1110" y1="941" x2="1110" y2="915" stroke="#111" stroke-width="2" marker-end="url(#ar)"/>
</svg>
</body></html>
